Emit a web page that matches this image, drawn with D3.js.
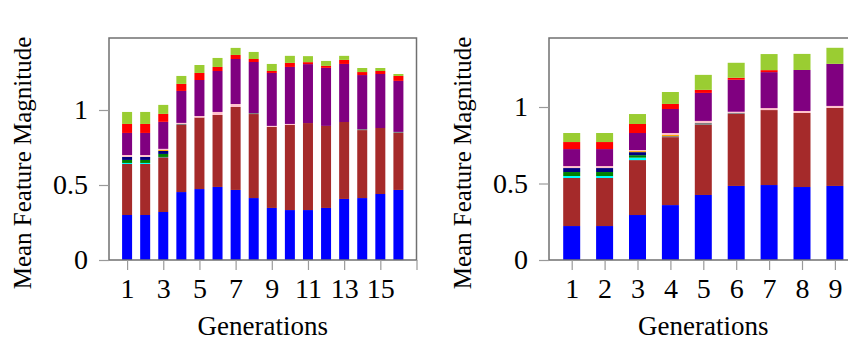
<!DOCTYPE html>
<html>
<head>
<meta charset="utf-8">
<script src="https://cdn.jsdelivr.net/npm/d3@7"></script>
<style>
  body { margin: 0; background: #fff; }
  text { font-family: "Liberation Serif", "DejaVu Serif", serif; fill: #000; }
</style>
</head>
<body>
<div id="chart"></div>
<script>
// stack order, bottom to top
var keys = ["blue", "brown", "gray", "cyan", "green", "navy", "orange", "pink", "purple", "red", "yellowgreen"];
var colors = ["#0000ff", "#a52a2a", "#808080", "#00ffff", "#008000", "#000080", "#ffa500", "#ffc0cb", "#800080", "#ff0000", "#9acd32"];

// left panel: 16 generations
var genLeft = [1, 2, 3, 4, 5, 6, 7, 8, 9, 10, 11, 12, 13, 14, 15, 16];
var leftBlue   = [0.30, 0.30, 0.32, 0.453, 0.473, 0.487, 0.467, 0.413, 0.347, 0.333, 0.333, 0.347, 0.407, 0.413, 0.44, 0.467];
var leftBrown  = [0.34, 0.34, 0.36, 0.447, 0.477, 0.48, 0.553, 0.56, 0.54, 0.567, 0.58, 0.547, 0.513, 0.453, 0.44, 0.38];
var leftGray   = [0, 0, 0.007, 0.007, 0, 0, 0, 0.007, 0, 0, 0, 0, 0, 0.007, 0, 0.007];
var leftCyan   = [0.007, 0.007, 0, 0, 0, 0, 0, 0, 0, 0, 0, 0, 0, 0, 0, 0];
var leftGreen  = [0.02, 0.02, 0.02, 0, 0, 0, 0, 0, 0, 0, 0, 0, 0, 0, 0, 0];
var leftNavy   = [0.02, 0.02, 0.02, 0, 0, 0, 0, 0, 0, 0, 0, 0, 0, 0, 0, 0];
var leftOrange = [0, 0, 0.007, 0, 0, 0, 0, 0, 0, 0, 0, 0, 0, 0, 0, 0];
var leftPink   = [0.013, 0.013, 0.007, 0.007, 0.01, 0.02, 0.02, 0, 0.007, 0.007, 0, 0, 0, 0, 0, 0];
var leftPurple = [0.147, 0.147, 0.18, 0.213, 0.24, 0.273, 0.30, 0.34, 0.353, 0.38, 0.393, 0.387, 0.387, 0.36, 0.36, 0.34];
var leftRed    = [0.06, 0.06, 0.053, 0.047, 0.047, 0.027, 0.027, 0.02, 0.013, 0.027, 0.013, 0.013, 0.027, 0.02, 0.02, 0.033];
var leftYG     = [0.08, 0.08, 0.06, 0.053, 0.053, 0.06, 0.047, 0.047, 0.047, 0.047, 0.04, 0.033, 0.027, 0.027, 0.02, 0.013];

// right panel: 9 generations
var genRight = [1, 2, 3, 4, 5, 6, 7, 8, 9];
var rightBlue   = [0.222, 0.222, 0.294, 0.359, 0.425, 0.484, 0.49, 0.477, 0.484];
var rightBrown  = [0.314, 0.314, 0.359, 0.444, 0.458, 0.471, 0.49, 0.484, 0.51];
var rightGray   = [0, 0, 0, 0.007, 0.013, 0.007, 0, 0, 0];
var rightCyan   = [0.013, 0.013, 0.016, 0, 0, 0, 0, 0, 0];
var rightGreen  = [0.026, 0.026, 0.016, 0, 0, 0, 0, 0, 0];
var rightNavy   = [0.026, 0.026, 0.02, 0, 0, 0, 0, 0, 0];
var rightOrange = [0, 0, 0.007, 0.007, 0, 0, 0, 0, 0];
var rightPink   = [0.013, 0.013, 0.007, 0.013, 0.013, 0.007, 0.013, 0.013, 0.013];
var rightPurple = [0.111, 0.111, 0.111, 0.157, 0.183, 0.209, 0.235, 0.268, 0.275];
var rightRed    = [0.046, 0.046, 0.059, 0.033, 0.02, 0.013, 0.013, 0, 0];
var rightYG     = [0.059, 0.059, 0.065, 0.078, 0.098, 0.098, 0.105, 0.105, 0.105];

var leftTicks = [1, 3, 5, 7, 9, 11, 13, 15, 17];
var rightTicks = [1, 2, 3, 4, 5, 6, 7, 8, 9];
var yTicks = [0, 0.5, 1];

function rows(gens, cols) {
    return gens.map(function(g, i) {
        var r = { gen: g };
        keys.forEach(function(k, j) { r[k] = cols[j][i]; });
        return r;
    });
}

var svg = d3.select("#chart").append("svg")
    .attr("width", 848)
    .attr("height", 338);

function panel(cfg) {
    var x = d3.scaleLinear().domain(cfg.xDomain).range([cfg.left, cfg.right]);
    var y = d3.scaleLinear().domain([0, cfg.yMax]).range([260, 38]);
    var g = svg.append("g");

    var stacked = d3.stack().keys(keys)(cfg.data);

    g.selectAll(".layer")
        .data(stacked)
      .enter().append("g")
        .attr("fill", function(d, i) { return colors[i]; })
      .selectAll("rect")
        .data(function(d) { return d; })
      .enter().append("rect")
        .attr("x", function(d) { return x(d.data.gen) - cfg.barW / 2; })
        .attr("width", cfg.barW)
        .attr("y", function(d) { return y(d[1]); })
        .attr("height", function(d) { return Math.max(0, y(d[0]) - y(d[1])); });

    // frame
    g.append("rect")
        .attr("x", cfg.left).attr("y", 38)
        .attr("width", cfg.right - cfg.left).attr("height", 222)
        .attr("fill", "none")
        .attr("stroke", "#707070")
        .attr("stroke-width", 1.5);

    var xAxis = g.append("g")
        .attr("transform", "translate(0,260)")
        .call(d3.axisBottom(x).tickValues(cfg.xTicks).tickSize(10).tickPadding(8)
            .tickFormat(function(d) { return d > cfg.lastLabel ? "" : d; }));
    var yAxis = g.append("g")
        .attr("transform", "translate(" + cfg.left + ",0)")
        .call(d3.axisLeft(y).tickValues(yTicks).tickSize(10).tickPadding(11)
            .tickFormat(function(d) { return d; }));

    [xAxis, yAxis].forEach(function(a) {
        a.select(".domain").remove();
        a.selectAll(".tick line").attr("stroke", "#9a9a9a").attr("stroke-width", 1.2);
        a.selectAll(".tick text")
            .attr("font-size", 28)
            .attr("font-family", "Liberation Serif")
            .attr("fill", "#000");
    });

    g.append("text")
        .attr("transform", "translate(" + (cfg.left - 78) + ",163) rotate(-90)")
        .attr("text-anchor", "middle")
        .attr("font-size", 25)
        .text("Mean Feature Magnitude");

    g.append("text")
        .attr("x", (cfg.left + cfg.right) / 2)
        .attr("y", 335)
        .attr("text-anchor", "middle")
        .attr("font-size", 27)
        .text("Generations");
}

panel({
    data: rows(genLeft, [leftBlue, leftBrown, leftGray, leftCyan, leftGreen, leftNavy, leftOrange, leftPink, leftPurple, leftRed, leftYG]),
    xDomain: [0, 17], left: 109, right: 416.5,
    yMax: 1.48, barW: 10,
    xTicks: leftTicks, lastLabel: 15
});

panel({
    data: rows(genRight, [rightBlue, rightBrown, rightGray, rightCyan, rightGreen, rightNavy, rightOrange, rightPink, rightPurple, rightRed, rightYG]),
    xDomain: [0.31, 9.69], left: 549, right: 857.6,
    yMax: 1.451, barW: 17,
    xTicks: rightTicks, lastLabel: 9
});
</script>
</body>
</html>
